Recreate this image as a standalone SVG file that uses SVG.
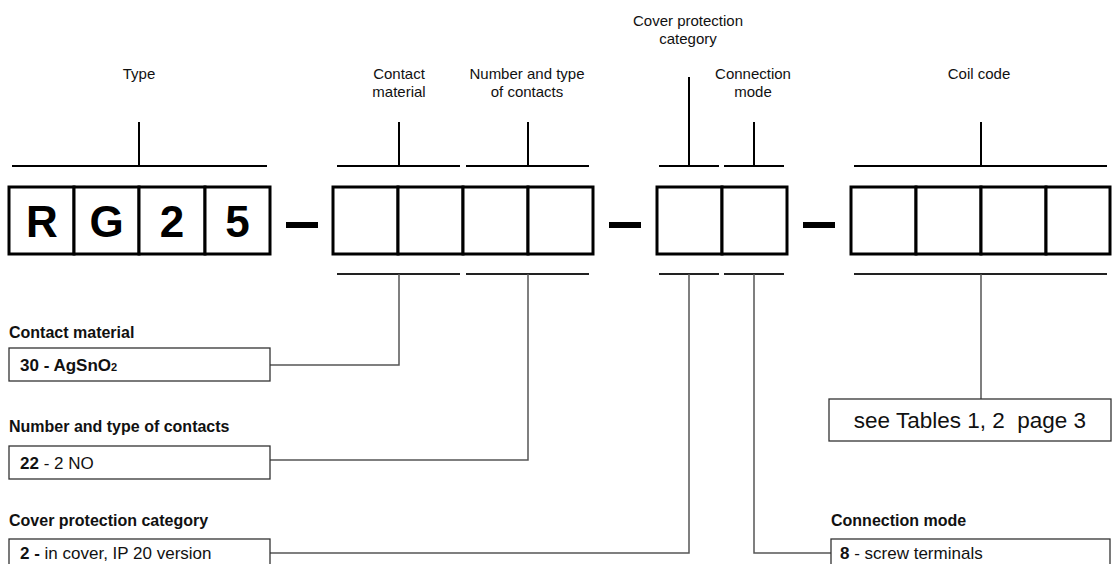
<svg xmlns="http://www.w3.org/2000/svg" width="1120" height="564" viewBox="0 0 1120 564">
<style>
text{font-family:"Liberation Sans",Arial,sans-serif;fill:#111}
.lbl{font-size:15px;text-anchor:middle}
.hd{font-size:16px;font-weight:bold}
.bx{font-size:17px}
.b{font-weight:bold}
.cell{fill:#fff;stroke:#000;stroke-width:3}
.big{font-size:44px;font-weight:bold;text-anchor:middle;fill:#000}
.tb{stroke:#000;stroke-width:2;fill:none}
.bb{stroke:#222;stroke-width:2;fill:none}
.cn{stroke:#555;stroke-width:1.5;fill:none}
.ib{fill:#fff;stroke:#333;stroke-width:1.3}
.dash{fill:#000}
</style>
<g id="top-labels">
<text class="lbl" x="139" y="79">Type</text>
<text class="lbl" x="399" y="79">Contact</text>
<text class="lbl" x="399" y="97">material</text>
<text class="lbl" x="527" y="79">Number and type</text>
<text class="lbl" x="527" y="97">of contacts</text>
<text class="lbl" x="688" y="26">Cover protection</text>
<text class="lbl" x="688" y="44">category</text>
<text class="lbl" x="753" y="79">Connection</text>
<text class="lbl" x="753" y="97">mode</text>
<text class="lbl" x="979" y="79">Coil code</text>
</g>
<g id="top-brackets">
<path class="tb" d="M12 166H267M139 122V166"/>
<path class="tb" d="M337 166H460M399 122V166"/>
<path class="tb" d="M466 166H589M528 122V166"/>
<path class="tb" d="M659 166H719M689 77V166"/>
<path class="tb" d="M724 166H784M754 122V166"/>
<path class="tb" d="M854 166H1107M981 122V166"/>
</g>
<g id="code">
<g id="group-type">
<rect class="cell" x="9" y="187" width="65" height="67"/>
<rect class="cell" x="74" y="187" width="65" height="67"/>
<rect class="cell" x="139" y="187" width="66" height="67"/>
<rect class="cell" x="205" y="187" width="65" height="67"/>
<text class="big" x="42" y="237">R</text>
<text class="big" x="106.5" y="237">G</text>
<text class="big" x="172" y="237">2</text>
<text class="big" x="237.5" y="237">5</text>
</g>
<rect class="dash" x="286" y="222" width="32" height="6"/>
<g id="group-contacts">
<rect class="cell" x="333" y="187" width="65" height="67"/>
<rect class="cell" x="398" y="187" width="65" height="67"/>
<rect class="cell" x="463" y="187" width="65" height="67"/>
<rect class="cell" x="528" y="187" width="65" height="67"/>
</g>
<rect class="dash" x="609" y="222" width="32" height="6"/>
<g id="group-cover">
<rect class="cell" x="657" y="187" width="65" height="67"/>
<rect class="cell" x="722" y="187" width="65" height="67"/>
</g>
<rect class="dash" x="803" y="222" width="32" height="6"/>
<g id="group-coil">
<rect class="cell" x="851" y="187" width="65" height="67"/>
<rect class="cell" x="916" y="187" width="65" height="67"/>
<rect class="cell" x="981" y="187" width="65" height="67"/>
<rect class="cell" x="1046" y="187" width="64" height="67"/>
</g>
</g>
<g id="bottom-brackets">
<path class="bb" d="M337 274H460"/>
<path class="bb" d="M466 274H589"/>
<path class="bb" d="M659 274H719"/>
<path class="bb" d="M724 274H784"/>
<path class="bb" d="M854 274H1107"/>
</g>
<g id="connectors">
<path class="cn" d="M399 274V365H270"/>
<path class="cn" d="M528 274V460H270"/>
<path class="cn" d="M689 274V553H270"/>
<path class="cn" d="M754 274V553H831"/>
<path class="cn" d="M981 274V399"/>
</g>
<g id="contact-material">
<text class="hd" x="9" y="338">Contact material</text>
<rect class="ib" x="9" y="348" width="261" height="33"/>
<text class="bx b" x="20" y="371">30 - AgSnO<tspan font-size="11">2</tspan></text>
</g>
<g id="contacts-number">
<text class="hd" x="9" y="432">Number and type of contacts</text>
<rect class="ib" x="9" y="446" width="261" height="33"/>
<text class="bx" x="20" y="469"><tspan class="b">22</tspan> - 2 NO</text>
</g>
<g id="cover-protection">
<text class="hd" x="9" y="526">Cover protection category</text>
<rect class="ib" x="9" y="539" width="261" height="33"/>
<text class="bx" x="20" y="559"><tspan class="b">2 -</tspan> in cover, IP 20 version</text>
</g>
<g id="connection-mode">
<text class="hd" x="831" y="526">Connection mode</text>
<rect class="ib" x="831" y="539" width="279" height="33"/>
<text class="bx" x="840" y="559"><tspan class="b">8</tspan> - screw terminals</text>
</g>
<g id="coil-code">
<rect class="ib" x="829" y="399" width="282" height="42"/>
<text x="970" y="428" font-size="22.5" text-anchor="middle" xml:space="preserve">see Tables 1, 2  page 3</text>
</g>
</svg>
